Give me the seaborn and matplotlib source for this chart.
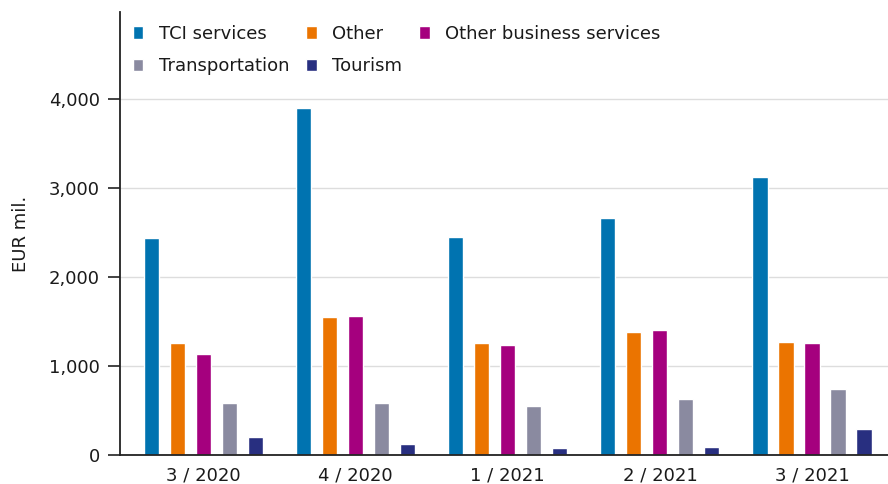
import pandas as pd
import matplotlib.pyplot as plt
import seaborn as sns

# Dati (EUR mil.)
quarters = ["3 / 2020", "4 / 2020", "1 / 2021", "2 / 2021", "3 / 2021"]
series = ["TCI services", "Other", "Other business services", "Transportation", "Tourism"]
tci_services = [2440, 3900, 2450, 2660, 3125]
other = [1260, 1555, 1255, 1385, 1270]
other_business = [1140, 1560, 1235, 1400, 1260]
transportation = [590, 590, 550, 635, 740]
tourism = [200, 125, 80, 95, 295]

palette = {
    "TCI services": "#0073B0",
    "Other": "#EB7400",
    "Other business services": "#A5007E",
    "Transportation": "#8A8AA0",
    "Tourism": "#282F80",
}

values = [tci_services, other, other_business, transportation, tourism]
rows = []
for name, vals in zip(series, values):
    for q, v in zip(quarters, vals):
        rows.append({"quarter": q, "series": name, "value": v})
df = pd.DataFrame(rows)

sns.set_theme(style="white")
plt.rcParams['font.family'] = ['DejaVu Sans']
txt_color = "#1a1a1a"

fig = plt.figure(figsize=(8.88, 4.84), dpi=100)
ax = fig.add_axes([120 / 888, 29 / 484, 768 / 888, 443 / 484])

sns.barplot(data=df, x="quarter", y="value", hue="series", order=quarters,
            hue_order=series, palette=palette, width=0.855, gap=0.415,
            saturation=1, ax=ax, legend=True)

ax.set_xlim(-0.55, 4.5)
ax.set_ylim(0, 4980)
ax.set_yticks([0, 1000, 2000, 3000, 4000])
ax.set_yticklabels(["0", "1,000", "2,000", "3,000", "4,000"])
ax.yaxis.grid(True, color="#dddddd", linewidth=1)
ax.set_axisbelow(True)
ax.set_xlabel("")
ax.set_ylabel("EUR mil.", fontsize=13, color=txt_color)
ax.yaxis.set_label_coords(-0.117, 0.5)

for side in ["top", "right"]:
    ax.spines[side].set_visible(False)
for side in ["left", "bottom"]:
    ax.spines[side].set_color("#222222")
    ax.spines[side].set_linewidth(1.3)

ax.tick_params(axis="y", which="major", left=True, length=8.4, width=1.2,
               color="#222222", labelsize=13, labelcolor=txt_color, pad=6)
ax.tick_params(axis="x", bottom=False, length=0, labelsize=13,
               labelcolor=txt_color, pad=8)

# Legenda: ordine riorganizzato per ottenere righe come nel riferimento
handles, labels = ax.get_legend_handles_labels()
order = [0, 3, 1, 4, 2]
leg = ax.legend([handles[i] for i in order], [labels[i] for i in order],
                ncol=3, loc="upper left", bbox_to_anchor=(133 / 888, 1 - 25 / 484),
                bbox_transform=fig.transFigure, frameon=False, fontsize=13,
                handlelength=0.58, handleheight=0.7, handletextpad=0.85,
                columnspacing=0.95, labelspacing=0.8, borderaxespad=0, borderpad=0)
for t in leg.get_texts():
    t.set_color(txt_color)

fig.savefig("out.png", dpi=100)
